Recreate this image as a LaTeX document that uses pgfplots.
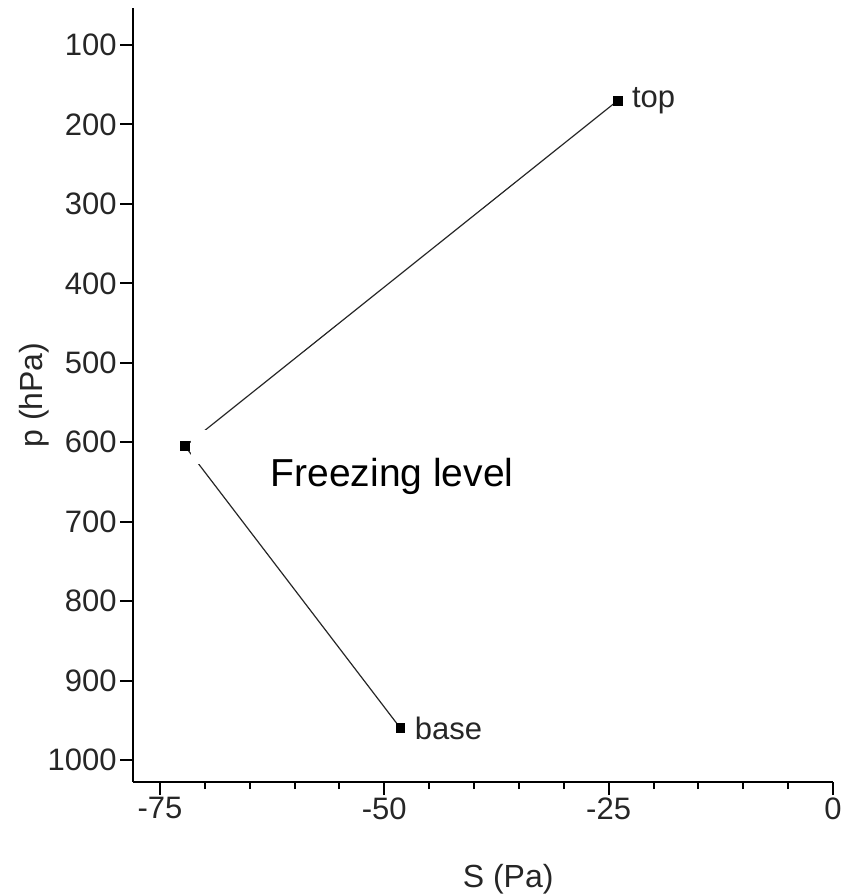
\documentclass[border=0pt]{standalone}
\usepackage{fontspec}
\setmainfont{Liberation Sans}
\usepackage{pgfplots}
\pgfplotsset{compat=1.18}
\begin{document}
\begin{tikzpicture}
\begin{axis}[
  name=ax,
  scale only axis,
  width=350pt, height=387pt,
  xmin=-78, xmax=0, ymin=53.4, ymax=1027.7,
  y dir=reverse,
  axis x line*=bottom, axis y line*=left,
  axis line style={line width=1pt, black},
  xtick={-75,-50,-25,0},
  minor x tick num=4,
  ytick={100,200,...,1000},
  tick align=outside,
  major tick length=6.5pt, minor tick length=3.5pt,
  every tick/.style={line width=1pt, black},
  tick label style={font=\fontsize{15.5}{18}\selectfont, black!85},
  xticklabel style={inner sep=1pt},
  yticklabel style={inner sep=1.5pt},
  /pgf/number format/assume math mode=true,
  /pgf/number format/1000 sep={},
  xlabel={S (Pa)}, ylabel={p (hPa)},
  label style={font=\fontsize{16}{19}\selectfont, black!85},
  xlabel style={at={(axis description cs:0.536,-0.1253)}, anchor=center},
  ylabel style={at={(axis description cs:-0.1414,0.5)}, anchor=center},
  clip=false,
]
\addplot[black!85, line width=0.6pt] coordinates {(-24,170) (-72.2,605) (-48.2,960)};
\fill[white] (axis cs:-71.5,585) rectangle (axis cs:-33,627);
\addplot[only marks, mark=square*, mark size=2.2pt, black] coordinates {(-24,170) (-72.2,605) (-48.2,960)};
\node[anchor=west, font=\fontsize{15.5}{18}\selectfont, black!85, inner sep=0pt] at ([xshift=7pt]axis cs:-24,170) {top};
\node[anchor=west, font=\fontsize{15.5}{18}\selectfont, black!85, inner sep=0pt] at ([xshift=7pt]axis cs:-48.2,960) {base};
\node[anchor=west, font=\fontsize{19.5}{22}\selectfont, black, inner sep=0pt] at (axis cs:-62.7,643) {Freezing level};
\end{axis}
\pgfresetboundingbox
\path ([xshift=-66.5pt,yshift=-57pt]ax.south west) rectangle ([xshift=4pt,yshift=4pt]ax.north east);
\end{tikzpicture}
\end{document}
